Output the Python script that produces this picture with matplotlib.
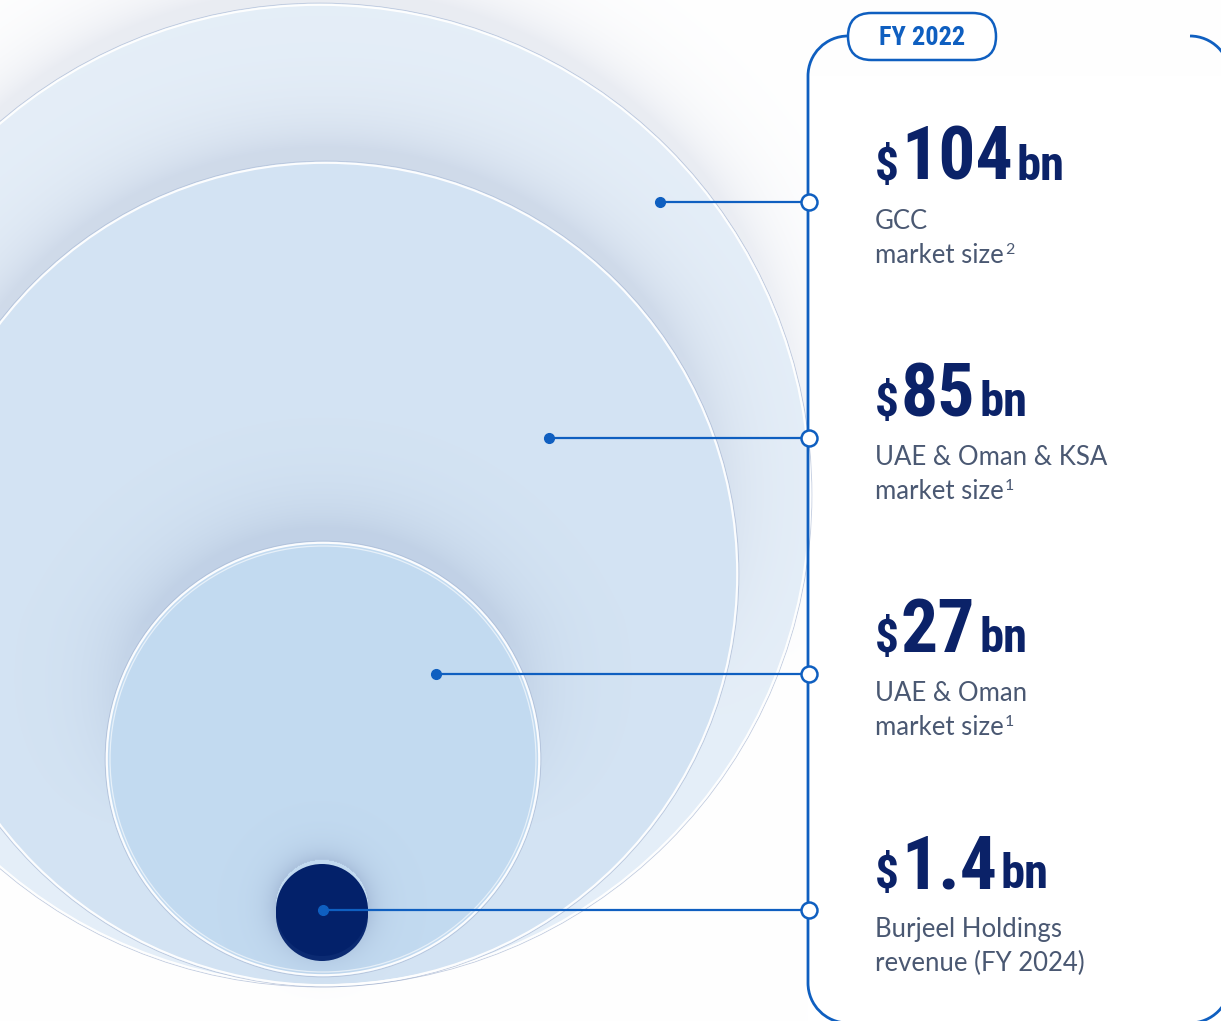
import numpy as np
import matplotlib
matplotlib.use("Agg")
import matplotlib.pyplot as plt
from matplotlib import font_manager
from matplotlib.patches import Circle, PathPatch, FancyBboxPatch, Arc
from matplotlib.path import Path

# market sizes / revenue, US$ bn
values = [104, 85, 27, 1.4]
captions = ["GCC\nmarket size", "UAE & Oman & KSA\nmarket size",
            "UAE & Oman\nmarket size", "Burjeel Holdings\nrevenue (FY 2024)"]
footnotes = ["2", "1", "1", ""]
period = "FY 2022"

# bubble layout in pixels (illustrative, not to scale)
bub_cx = [320, 326, 323, 322]
bub_cy = [495, 574, 759, 910]
bub_r = [491, 412, 217, 46]
bub_col = [(0.898, 0.935, 0.973), (0.831, 0.893, 0.955), (0.762, 0.856, 0.942)]
anchor_x = [660, 549, 436, 323]
row_y = [202, 438, 674, 910]

W, H = 1221, 1021
NAVY = "#0b2268"
BLUE = "#0f5fc0"
GREY = "#4a5872"

names = {f.name for f in font_manager.fontManager.ttflist}
def pick(*fams):
    for f in fams:
        if f in names:
            return f
    return "DejaVu Sans"
NUM_FONT = pick("Roboto Condensed", "Open Sans Condensed", "Roboto")
TXT_FONT = pick("Lato", "Open Sans", "DejaVu Sans")

fig = plt.figure(figsize=(W / 100, H / 100), dpi=100)
ax = fig.add_axes([0, 0, 1, 1])

# bracket geometry
R, L, T, Rt, B = 40, 808, 36, 1230, 1023

# soft-shadowed bubbles rendered as a raster backdrop (shadows thrown upwards)
yy, xx = np.mgrid[0:H, 0:W] + 0.5
img = np.ones((H, W, 3))
shade = np.array([0.45, 0.52, 0.68])
for i in range(3):
    d = np.hypot(xx - bub_cx[i], yy - (bub_cy[i] - 14)) - bub_r[i]
    dd = np.hypot(xx - bub_cx[i], yy - bub_cy[i]) - bub_r[i]
    up = np.clip((bub_cy[i] - yy) / bub_r[i] + 0.35, 0, 1)
    s = 0.15 if i == 0 else 0.19
    a = s * up * np.exp(-np.clip(d, 0, None) / 34.0) * (dd > 0)
    img = img * (1 - a[..., None]) + shade * a[..., None]
    cov = np.clip(0.5 - dd, 0, 1)[..., None]
    img = img * (1 - cov) + np.array(bub_col[i]) * cov
# halo round the revenue coin
d = np.hypot(xx - bub_cx[3], yy - (bub_cy[3] - 4)) - bub_r[3]
a = 0.30 * np.exp(-np.clip(d, 0, None) / 13.0) * (d > 0)
img = img * (1 - a[..., None]) + shade * a[..., None]
# the bracketed panel is plain white
img[(xx > L) & (yy > T + R)] = 1.0
ax.imshow(img, extent=(0, W, H, 0), interpolation="bilinear", aspect="auto", zorder=0)
ax.set_xlim(0, W); ax.set_ylim(H, 0)
ax.axis("off")

# glassy rims
for i in range(3):
    c = (bub_cx[i], bub_cy[i])
    ax.add_patch(Circle(c, bub_r[i] + 0.9, fill=False, ec="#a7b6d2", lw=0.6, alpha=0.7, zorder=1))
    ax.add_patch(Circle(c, bub_r[i] - 0.8, fill=False, ec="white", lw=1.5, alpha=0.95, zorder=1))
ax.add_patch(Circle((bub_cx[2], bub_cy[2]), bub_r[2] - 4, fill=False, ec="white", lw=0.9,
                    alpha=0.6, zorder=1))

# revenue coin
cx, cy, r = bub_cx[3], bub_cy[3], bub_r[3]
ax.add_patch(Circle((cx, cy + 5), r, fc="#0b2a72", ec="none", zorder=2))
ax.add_patch(Arc((cx, cy + 1), 2 * r - 4, 2 * r - 4, theta1=200, theta2=340,
                 ec="#5d7fc4", lw=1.0, alpha=0.8, zorder=2))
ax.add_patch(Circle((cx, cy), r, fc="#03216a", ec="none", zorder=2))

# bracket around the figures: left side as one path, right corners as arcs
k = 0.5523 * R
verts = [(847, T), (L + R, T), (L + R - k, T), (L, T + R - k), (L, T + R),
         (L, B - R), (L, B - R + k), (L + R - k, B), (L + R, B), (Rt - R, B)]
codes = [Path.MOVETO, Path.LINETO, Path.CURVE4, Path.CURVE4, Path.CURVE4,
         Path.LINETO, Path.CURVE4, Path.CURVE4, Path.CURVE4, Path.LINETO]
ax.add_patch(PathPatch(Path(verts, codes), fill=False, ec=BLUE, lw=2.0, zorder=3,
                       capstyle="butt"))
ax.add_patch(Arc((Rt - R, T + R), 2 * R, 2 * R, theta1=270, theta2=360, ec=BLUE, lw=2.0, zorder=3))
ax.add_patch(Arc((Rt - R, B - R), 2 * R, 2 * R, theta1=0, theta2=90, ec=BLUE, lw=2.0, zorder=3))
ax.add_patch(FancyBboxPatch((848, 13), 148, 47, boxstyle="round,pad=0,rounding_size=23.5",
                            fc="white", ec=BLUE, lw=1.8, zorder=4))
ax.text(922, 38, period, fontsize=19, fontweight="bold", family=NUM_FONT, color=BLUE,
        ha="center", va="center", zorder=5)

# connectors
for x0, y in zip(anchor_x, row_y):
    ax.plot([x0, 809], [y, y], color=BLUE, lw=1.6, zorder=4, solid_capstyle="butt")
    ax.plot(x0, y, "o", ms=7, color=BLUE, zorder=5)
    ax.plot(809, y, "o", ms=11.5, mfc="white", mec=BLUE, mew=1.8, zorder=5)

# figures and captions
renderer = fig.canvas.get_renderer()
for v, cap, fn, y in zip(values, captions, footnotes, row_y):
    x = 875
    for s, size, gap in (("$", 34, 2), (f"{v:g}", 53, 4), ("bn", 35, 0)):
        t = ax.text(x, y - 22, s, fontsize=size, fontweight="bold", family=NUM_FONT,
                    color=NAVY, va="baseline", ha="left", zorder=5)
        x += t.get_window_extent(renderer).width + gap
    for j, line in enumerate(cap.split("\n")):
        yb = y + 27 + 34 * j
        t = ax.text(875, yb, line, fontsize=18.5, family=TXT_FONT, color=GREY,
                    va="baseline", ha="left", zorder=5)
        if j == 1 and fn:
            xe = 875 + t.get_window_extent(renderer).width + 1
            ax.text(xe, yb - 9, fn, fontsize=11.5, family=TXT_FONT, color=GREY,
                    va="baseline", ha="left", zorder=5)

fig.savefig("out.png", dpi=100)
